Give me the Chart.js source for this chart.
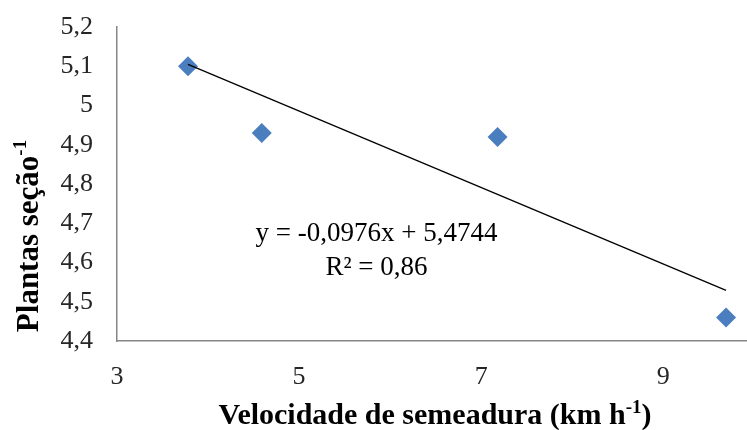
<!DOCTYPE html>
<html>
<head>
<meta charset="utf-8">
<script src="https://cdn.jsdelivr.net/npm/chart.js@4"></script>
<style>
    html, body { margin: 0; padding: 0; background: #fff; }
    #wrap { width: 747px; height: 430px; position: relative; }
</style>
</head>
<body>
<div id="wrap"><canvas id="chart"></canvas></div>
<script>
const speedKmH = [3.78, 4.59, 7.18, 9.69];
const plantsPerSection = [5.10, 4.93, 4.92, 4.46];

// Trend line end points (as drawn in the figure)
const trendX = [3.78, 9.69];
const trendY = [5.105, 4.529];

const xTicks = [3, 5, 7, 9];
const equationLines = ['y = -0,0976x + 5,4744', 'R² = 0,86'];

const xTitle = ['Velocidade de semeadura (km h', '-1', ')'];
const yTitle = ['Plantas seção', '-1', ''];

const serif = '"Liberation Serif", "Times New Roman", serif';
const tickColor = '#262626';
const axisColor = '#868686';

const fmtComma = v => String(Math.round(v * 10) / 10).replace('.', ',');

// Write text with a superscript part, centred on (0, 0) of the current transform
function drawSupText(ctx, parts, size) {
    const main = 'bold ' + size + 'px ' + serif;
    const sup = 'bold ' + Math.round(size * 0.62) + 'px ' + serif;
    ctx.font = main;
    const w0 = ctx.measureText(parts[0]).width;
    const w2 = ctx.measureText(parts[2]).width;
    ctx.font = sup;
    const w1 = ctx.measureText(parts[1]).width;
    let x = -(w0 + w1 + w2) / 2;
    ctx.textAlign = 'left';
    ctx.textBaseline = 'alphabetic';
    ctx.font = main;
    ctx.fillText(parts[0], x, 0);
    x += w0;
    ctx.font = sup;
    ctx.fillText(parts[1], x, -size * 0.38);
    x += w1;
    ctx.font = main;
    ctx.fillText(parts[2], x, 0);
}

// Axis titles with real superscripts
const axisTitlePlugin = {
    id: 'axisTitles',
    afterDraw(chart) {
        const { ctx, chartArea } = chart;
        ctx.save();
        ctx.fillStyle = '#000';
        ctx.translate((chartArea.left + chartArea.right) / 2 + 3, 424);
        drawSupText(ctx, xTitle, 30);
        ctx.restore();

        ctx.save();
        ctx.fillStyle = '#000';
        ctx.translate(38, 236);
        ctx.rotate(-Math.PI / 2);
        drawSupText(ctx, yTitle, 31);
        ctx.restore();
    }
};

// Draws the regression equation in data space
const equationPlugin = {
    id: 'equation',
    afterDatasetsDraw(chart) {
        const { ctx, scales } = chart;
        const cx = scales.x.getPixelForValue(5.85);
        const cy = scales.y.getPixelForValue(4.673);
        ctx.save();
        ctx.fillStyle = '#000';
        ctx.font = '27px ' + serif;
        ctx.textAlign = 'center';
        ctx.textBaseline = 'middle';
        equationLines.forEach((line, i) => {
            ctx.fillText(line, cx, cy + i * 34);
        });
        ctx.restore();
    }
};

new Chart(document.getElementById('chart'), {
    type: 'scatter',
    data: {
        datasets: [
            {
                label: 'Plantas',
                data: speedKmH.map((x, i) => ({ x: x, y: plantsPerSection[i] })),
                pointStyle: 'rectRot',
                pointRadius: 10,
                pointHoverRadius: 10,
                backgroundColor: '#4a7ebf',
                borderColor: '#4a7ebf',
                borderWidth: 0,
                clip: false,
                order: 2
            },
            {
                label: 'Linear',
                type: 'line',
                data: trendX.map((x, i) => ({ x: x, y: trendY[i] })),
                borderColor: '#000',
                borderWidth: 1.3,
                pointRadius: 0,
                fill: false,
                order: 1
            }
        ]
    },
    options: {
        responsive: true,
        maintainAspectRatio: false,
        animation: false,
        layout: { autoPadding: false, padding: { top: 27, right: 0, left: 0, bottom: 0 } },
        plugins: {
            legend: { display: false },
            tooltip: { enabled: false }
        },
        scales: {
            x: {
                type: 'linear',
                min: 3,
                max: 9.92,
                afterBuildTicks: axis => { axis.ticks = xTicks.map(v => ({ value: v })); },
                afterFit: axis => {
                    axis.height = 89;
                    axis.paddingLeft = 0;
                    axis.paddingRight = 0;
                },
                grid: { display: false, drawTicks: false },
                border: { display: true, color: axisColor, width: 1.5 },
                ticks: {
                    color: tickColor,
                    padding: 21,
                    maxRotation: 0,
                    font: { family: serif, size: 26 }
                }
            },
            y: {
                min: 4.4,
                max: 5.2,
                afterFit: axis => {
                    axis.width = 117;
                    axis.paddingTop = 0;
                    axis.paddingBottom = 0;
                },
                grid: { display: false, drawTicks: false },
                border: { display: true, color: axisColor, width: 1.5 },
                ticks: {
                    stepSize: 0.1,
                    color: tickColor,
                    padding: 24,
                    font: { family: serif, size: 26 },
                    callback: v => fmtComma(v)
                }
            }
        }
    },
    plugins: [equationPlugin, axisTitlePlugin]
});
</script>
</body>
</html>
